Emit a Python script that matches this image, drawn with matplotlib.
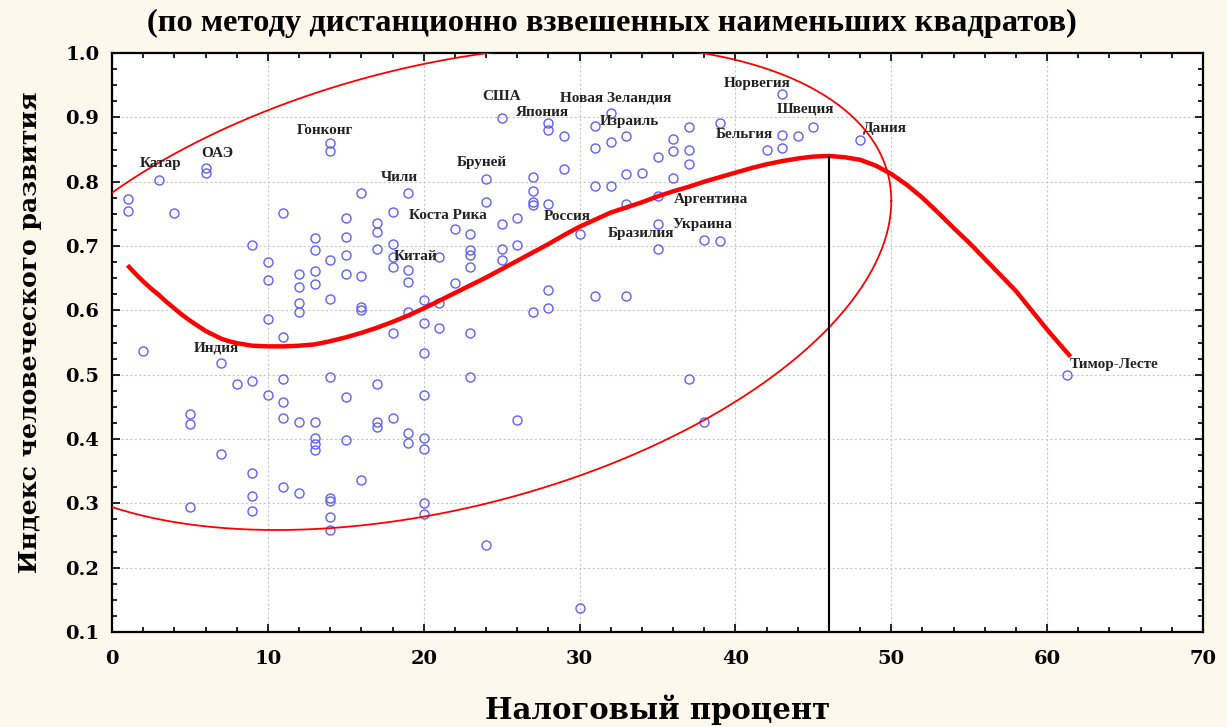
import numpy as np
import matplotlib
matplotlib.use('Agg')
import matplotlib.pyplot as plt
from matplotlib.ticker import MultipleLocator, FormatStrFormatter

# tax rate (%) and HDI
tax = [1, 1, 3, 4, 6, 6, 14, 14, 16, 19, 11, 18, 15, 17, 17, 15, 13, 13, 9, 10,
       14, 15, 17, 18, 18, 18, 21, 19, 19, 10, 12, 12, 13, 13, 15, 16, 14, 12, 12, 16,
       16, 10, 19, 20, 20, 21, 18, 11, 21, 2, 7, 20, 8, 9, 11, 14, 17, 10, 11, 15,
       20, 5, 5, 11, 12, 13, 17, 17, 18, 13, 13, 13, 15, 19, 19, 20, 20, 7, 9, 16,
       11, 12, 9, 14, 14, 5, 9, 20, 20, 14, 14,
       25, 28, 28, 29, 32, 31, 31, 32, 33, 37, 39, 36, 35, 36, 37, 37,
       24, 27, 29, 27, 27, 27, 28, 24, 31, 32, 33, 34, 36, 33, 35,
       26, 25, 22, 23, 30, 35, 35, 38, 39, 23, 23, 23, 25, 25, 26,
       22, 28, 31, 33, 27, 28, 23, 23, 26, 37, 38, 24, 30,
       43, 45, 44, 43, 43, 42, 48, 61.3]
hdi = [0.773, 0.755, 0.803, 0.751, 0.821, 0.813, 0.860, 0.847, 0.782, 0.782,
       0.751, 0.753, 0.743, 0.736, 0.722, 0.714, 0.712, 0.694, 0.701, 0.675,
       0.679, 0.686, 0.695, 0.703, 0.683, 0.668, 0.683, 0.662, 0.644, 0.647,
       0.657, 0.637, 0.661, 0.641, 0.657, 0.653, 0.618, 0.611, 0.598, 0.605,
       0.600, 0.586, 0.598, 0.616, 0.580, 0.573, 0.565, 0.559, 0.611, 0.537,
       0.518, 0.533, 0.486, 0.490, 0.493, 0.497, 0.486, 0.468, 0.458, 0.465,
       0.468, 0.439, 0.423, 0.433, 0.426, 0.426, 0.427, 0.419, 0.433, 0.402,
       0.392, 0.383, 0.398, 0.409, 0.394, 0.402, 0.384, 0.376, 0.347, 0.336,
       0.326, 0.316, 0.312, 0.309, 0.303, 0.294, 0.288, 0.300, 0.284, 0.279, 0.259,
       0.899, 0.891, 0.880, 0.871, 0.907, 0.886, 0.853, 0.861, 0.871, 0.885, 0.891,
       0.867, 0.839, 0.847, 0.850, 0.828,
       0.804, 0.808, 0.819, 0.786, 0.769, 0.764, 0.765, 0.768, 0.793, 0.793,
       0.812, 0.814, 0.805, 0.766, 0.777,
       0.743, 0.734, 0.726, 0.718, 0.718, 0.734, 0.696, 0.709, 0.708, 0.694,
       0.686, 0.668, 0.696, 0.679, 0.701,
       0.643, 0.632, 0.622, 0.622, 0.598, 0.604, 0.565, 0.497, 0.430, 0.493,
       0.427, 0.236, 0.138,
       0.936, 0.885, 0.871, 0.872, 0.853, 0.850, 0.865, 0.500]

# smoothed curve (distance weighted least squares)
curve_x = [1, 1.5, 2, 2.5, 3, 3.5, 4, 4.5, 5, 5.5, 6, 6.5, 7, 7.5, 8, 8.5, 9, 10, 11,
           12, 13, 14, 15, 16, 17, 18, 19, 20, 21, 22, 23, 24, 25, 26, 27, 28, 29,
           30, 31, 32, 33, 34, 35, 36, 37, 38, 39, 40, 41, 42, 43, 44, 45, 46, 47,
           48, 49, 50, 51, 52, 53, 54, 55, 56, 57, 58, 59, 60, 61, 61.5]
curve_y = [0.670, 0.657, 0.645, 0.634, 0.624, 0.613, 0.603, 0.593, 0.584, 0.576,
           0.568, 0.562, 0.556, 0.552, 0.549, 0.547, 0.545, 0.544, 0.544, 0.545,
           0.547, 0.552, 0.558, 0.565, 0.573, 0.582, 0.592, 0.603, 0.615, 0.627,
           0.639, 0.651, 0.664, 0.677, 0.690, 0.703, 0.717, 0.730, 0.741, 0.752,
           0.760, 0.768, 0.777, 0.785, 0.792, 0.800, 0.807, 0.814, 0.821, 0.827,
           0.832, 0.836, 0.839, 0.840, 0.838, 0.834, 0.825, 0.812, 0.795, 0.775,
           0.752, 0.728, 0.705, 0.680, 0.655, 0.630, 0.600, 0.570, 0.542, 0.528]

# ellipse: centre, x half-axis, y components
ell_cx, ell_cy = 20.93, 0.6354
ell_p, ell_q, ell_r = 29.07, 0.1346, 0.352

countries = ['Катар', 'ОАЭ', 'Гонконг', 'Чили', 'Коста Рика', 'Китай', 'Индия',
             'США', 'Япония', 'Новая Зеландия', 'Израиль', 'Бруней', 'Россия',
             'Бразилия', 'Аргентина', 'Украина', 'Норвегия', 'Швеция', 'Бельгия',
             'Дания', 'Тимор-Лесте']
label_pos = [(3.14, 0.829), (6.74, 0.844), (13.66, 0.879), (18.47, 0.806),
             (21.55, 0.748), (19.5, 0.684), (6.67, 0.541), (25.02, 0.932),
             (27.65, 0.907), (32.33, 0.93), (33.2, 0.893), (23.73, 0.83),
             (29.19, 0.746), (33.93, 0.719), (38.42, 0.773), (37.91, 0.734),
             (41.37, 0.953), (44.52, 0.913), (40.6, 0.874), (49.58, 0.882),
             (64.3, 0.516)]

bg = '#fdf8ec'
serif = 'DejaVu Serif'
times = 'Liberation Serif'

fig = plt.figure(figsize=(12.27, 7.27), dpi=100, facecolor=bg)
ax = fig.add_axes([112 / 1227, 1 - 632 / 727, 1091 / 1227, 579 / 727])
ax.set_facecolor('white')

ax.plot(tax, hdi, 'o', mfc='none', mec='#5f5fff', ms=6.5, mew=1.0, zorder=3)
ax.plot(curve_x, curve_y, color='red', lw=3.2, zorder=4,
        solid_capstyle='butt', solid_joinstyle='round')

t = np.linspace(0, 2 * np.pi, 400)
ax.plot(ell_cx + ell_p * np.cos(t), ell_cy + ell_q * np.cos(t) + ell_r * np.sin(t),
        color='red', lw=1.3, zorder=4)

i_max = int(np.argmax(curve_y))
ax.vlines(curve_x[i_max], 0.1, curve_y[i_max], color='black', lw=1.5, zorder=5)

for name, (lx, ly) in zip(countries, label_pos):
    ax.text(lx, ly, name, ha='center', va='center', fontsize=11,
            fontweight='bold', family=times, color='#222222', zorder=6)

ax.set_xlim(0, 70)
ax.set_ylim(0.1, 1.0)
ax.xaxis.set_major_locator(MultipleLocator(10))
ax.xaxis.set_minor_locator(MultipleLocator(2))
ax.yaxis.set_major_locator(MultipleLocator(0.1))
ax.yaxis.set_minor_locator(MultipleLocator(0.025))
ax.yaxis.set_major_formatter(FormatStrFormatter('%.1f'))
ax.tick_params(which='both', direction='in', top=True, right=True, width=1.2)
ax.tick_params(which='major', length=6, labelsize=14)
ax.tick_params(axis='x', which='major', pad=13)
ax.tick_params(axis='y', which='major', pad=9)
ax.tick_params(which='minor', length=3.5)
for lab in ax.get_xticklabels() + ax.get_yticklabels():
    lab.set_fontweight('bold')
    lab.set_family(serif)
for sp in ax.spines.values():
    sp.set_linewidth(1.6)
ax.grid(True, which='major', linestyle=(0, (2, 2)), color='#c8c8c8', lw=0.8)
ax.set_axisbelow(True)

fig.text(0.499, 1 - 23 / 727, '(по методу дистанционно взвешенных наименьших квадратов)',
         ha='center', va='center', fontsize=23.4, fontweight='bold', family=times)
fig.text(30 / 1227, 1 - 332 / 727, 'Индекс человеческого развития', rotation=90,
         ha='center', va='center', fontsize=18, fontweight='bold', family=serif)
fig.text(658 / 1227, 1 - 710 / 727, 'Налоговый процент',
         ha='center', va='center', fontsize=21, fontweight='bold', family=serif)

fig.savefig('out.png', dpi=100, facecolor=bg)
